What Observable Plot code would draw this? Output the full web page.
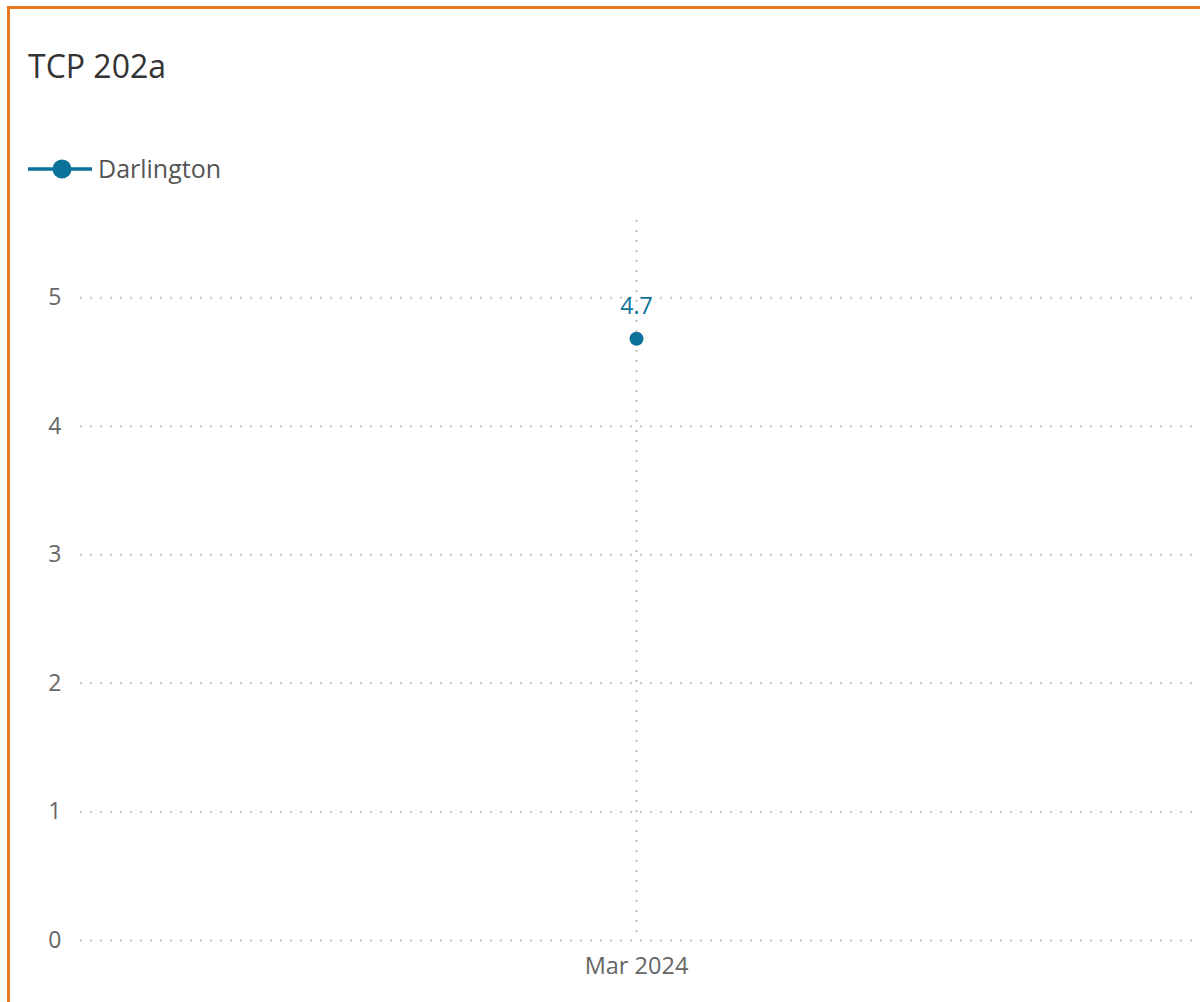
<!DOCTYPE html>
<html>
<head>
<meta charset="utf-8">
<script src="https://cdn.jsdelivr.net/npm/d3@7"></script>
<script src="https://cdn.jsdelivr.net/npm/@observablehq/plot@0.6"></script>
<style>
  html, body { margin: 0; padding: 0; background: #fff; }
  body { width: 1200px; height: 1002px; position: relative; overflow: hidden; font-family: "Segoe UI", "Open Sans", sans-serif; }
  #frame { position: absolute; left: 7px; top: 6px; right: 0; bottom: 0; border-top: 3px solid #E87722; border-left: 3px solid #E87722; }
  #title { position: absolute; left: 28px; top: 50px; font-size: 32px; line-height: 32px; color: #333; white-space: nowrap; }
  #legend-marker { position: absolute; left: 28px; top: 159px; }
  #legend-text { position: absolute; left: 98px; top: 156px; font-size: 25px; line-height: 24px; color: #555; white-space: nowrap; }
  #chart { position: absolute; left: 0; top: 200px; }
</style>
</head>
<body>
<div id="frame"></div>
<div id="title"></div>
<svg id="legend-marker" width="66" height="20"></svg>
<div id="legend-text"></div>
<div id="chart"></div>
<script>
const chartTitle = "TCP 202a";
const seriesName = "Darlington";
const months = ["Mar 2024"];
const values = [4.68];
const yTicks = [0, 1, 2, 3, 4, 5];

const color = "#0b7299";
const data = months.map((m, i) => ({month: m, value: values[i], series: seriesName}));

document.getElementById("title").textContent = chartTitle;
document.getElementById("legend-text").textContent = seriesName;
const lm = d3.select("#legend-marker");
lm.append("line").attr("x1", 0).attr("x2", 64).attr("y1", 10).attr("y2", 10).attr("stroke", color).attr("stroke-width", 3.5);
lm.append("circle").attr("cx", 34).attr("cy", 10).attr("r", 9.5).attr("fill", color);

const grid = {stroke: "#c4c4c4", strokeOpacity: 1, strokeWidth: 2, strokeDasharray: "2,8"};

const chart = Plot.plot({
  width: 1200,
  height: 802,
  marginLeft: 80,
  marginRight: 8,
  marginTop: 20,
  marginBottom: 62,
  style: {fontFamily: "'Segoe UI', 'Open Sans', sans-serif", fontSize: "23px", color: "#666", background: "transparent", overflow: "visible"},
  x: {type: "point", domain: months, label: null},
  y: {domain: [0, 5.6], label: null},
  marks: [
    Plot.gridY(yTicks, grid),
    Plot.gridX(months, grid),
    Plot.axisY(yTicks, {tickSize: 0, tickPadding: 19, fill: "#666", fontSize: 23, tickFormat: d3.format("d"), label: null}),
    Plot.axisX(months, {tickSize: 0, tickPadding: 17, fill: "#666", fontSize: 23.5, label: null}),
    Plot.line(data, {x: "month", y: "value", stroke: color, strokeWidth: 3}),
    Plot.dot(data, {x: "month", y: "value", r: 7, fill: color}),
    Plot.text(data, {x: "month", y: "value", text: d => d3.format(".1f")(d.value), dy: -32, fill: color, fontSize: 23})
  ]
});
document.getElementById("chart").appendChild(chart);
</script>
</body>
</html>
